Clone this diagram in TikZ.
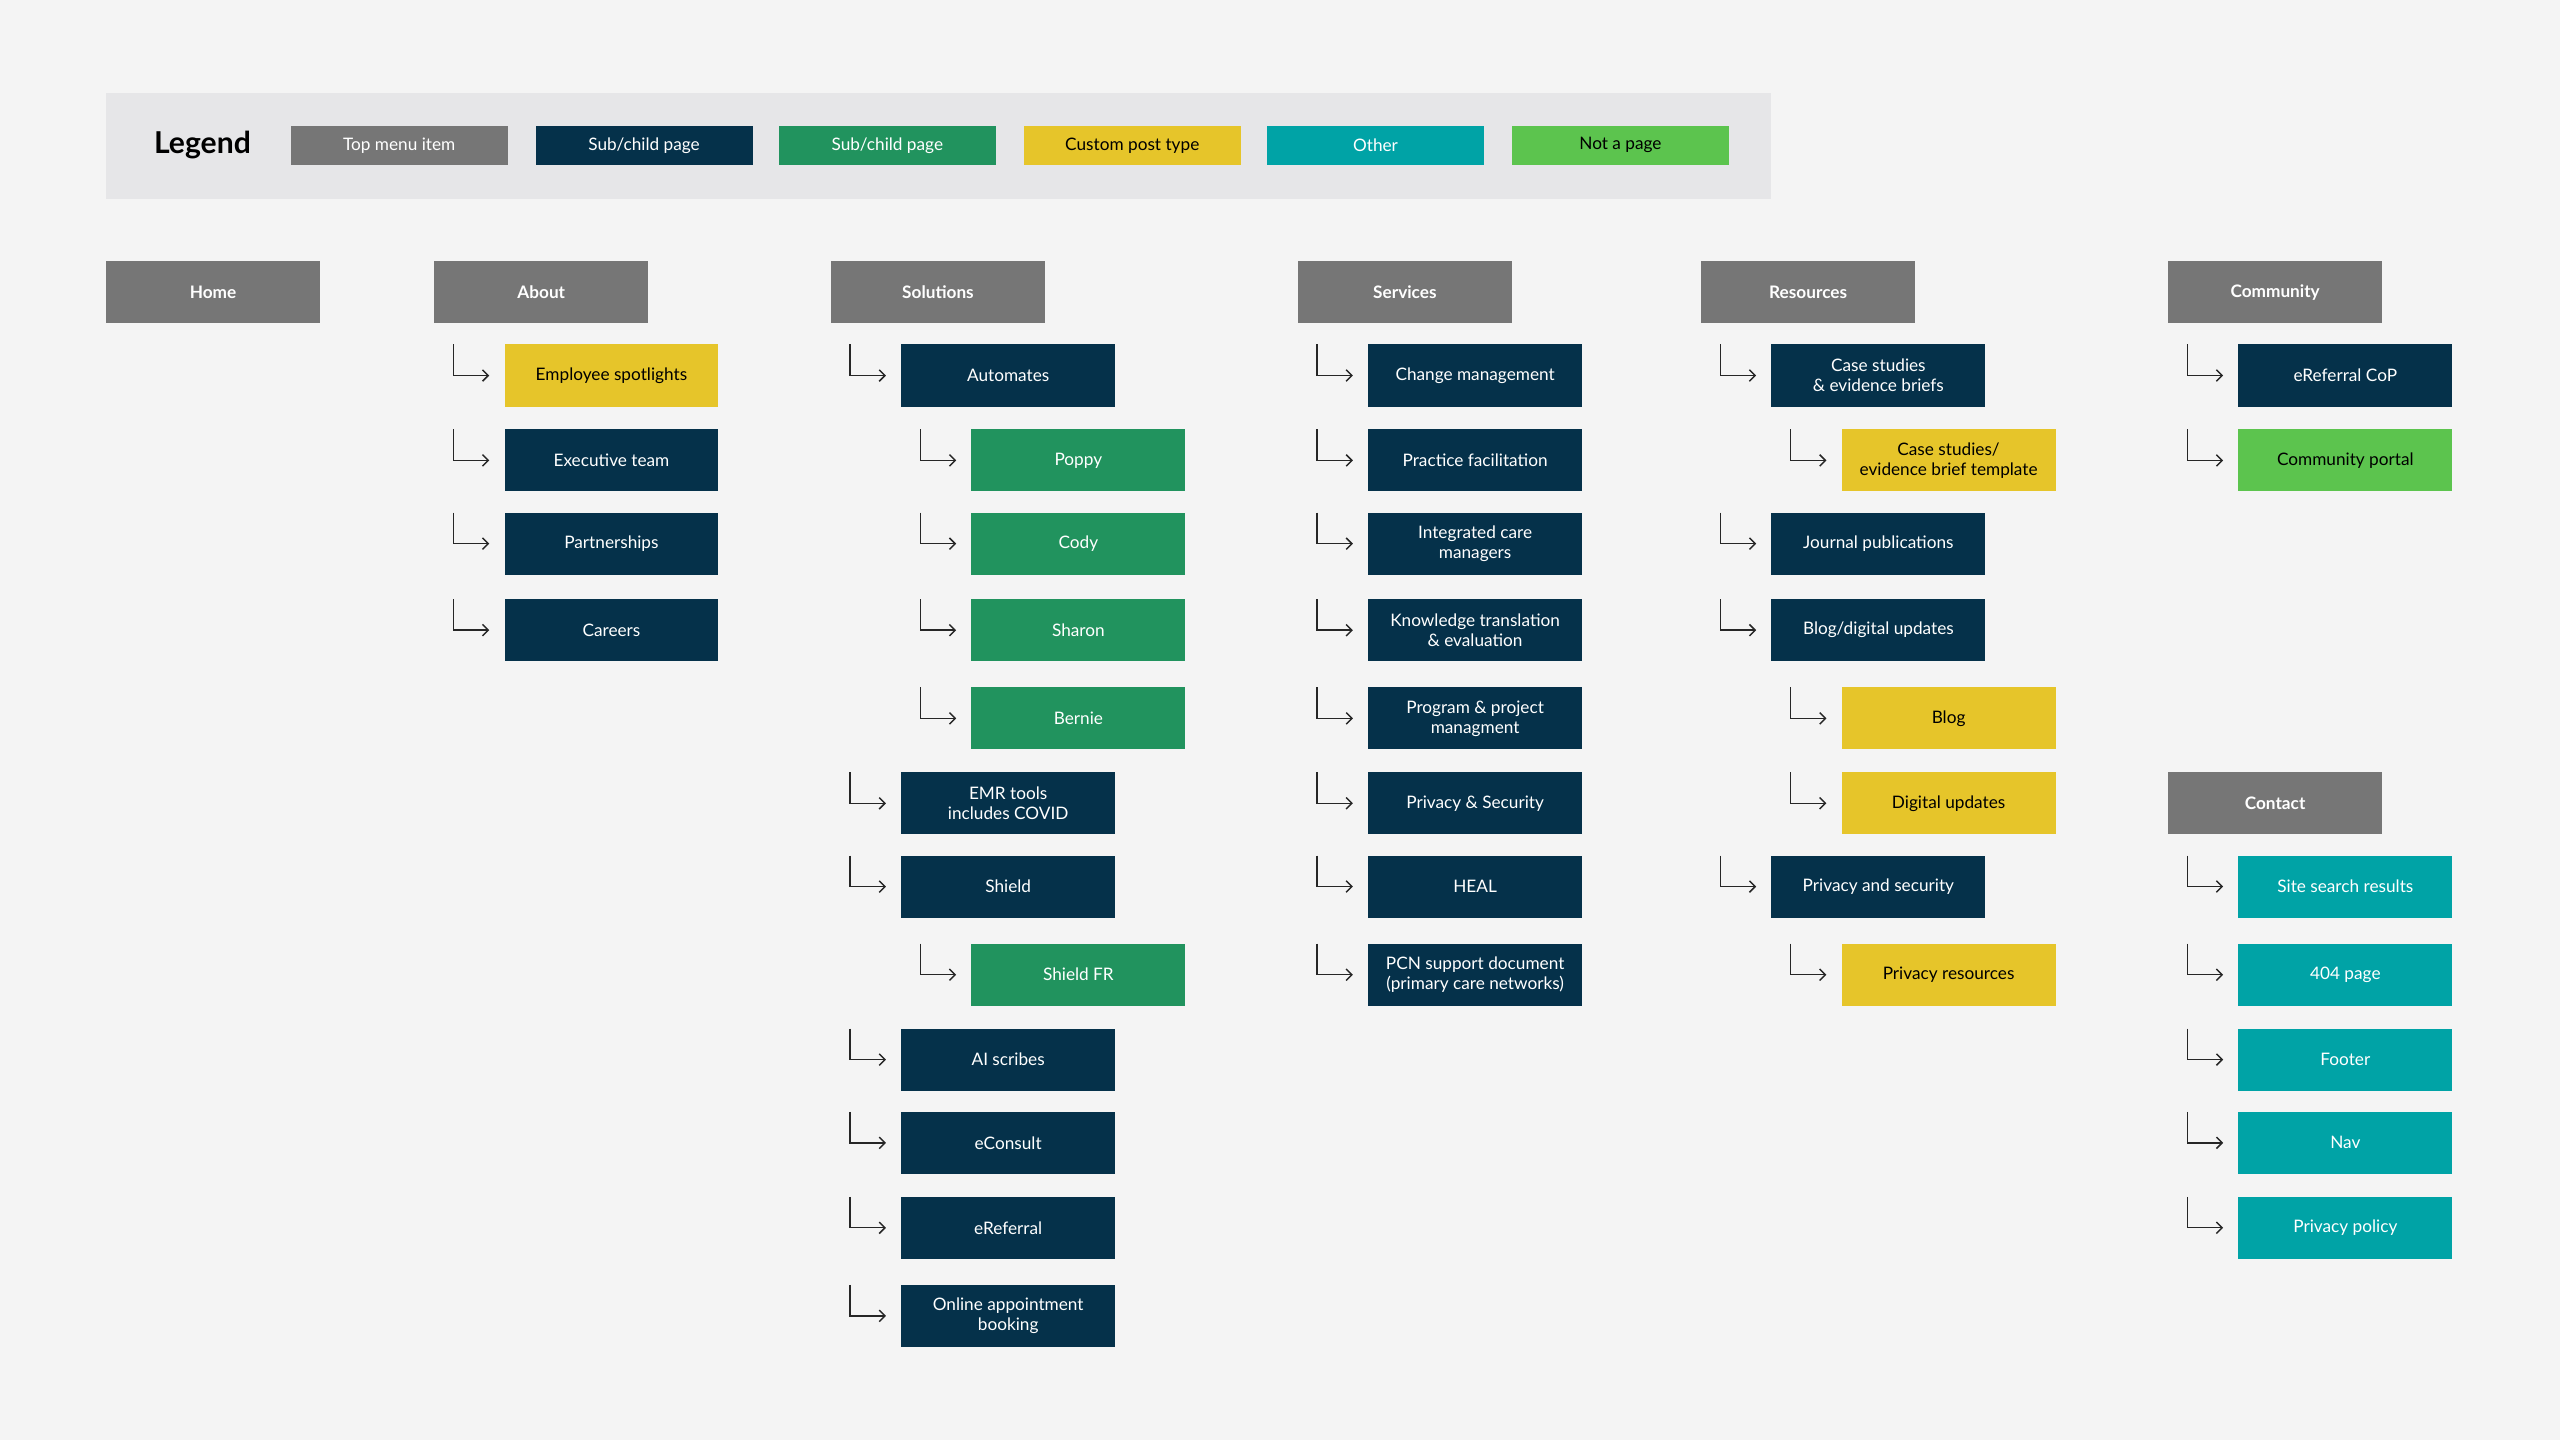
\documentclass[tikz,border=0pt]{standalone}
\usepackage{fontspec}
\setmainfont{Lato}
\usetikzlibrary{arrows.meta}
\definecolor{bgc}{HTML}{F4F4F4}
\definecolor{legc}{HTML}{E6E6E8}
\definecolor{topc}{HTML}{767676}
\definecolor{navyc}{HTML}{05314A}
\definecolor{greenc}{HTML}{21935E}
\definecolor{yellowc}{HTML}{E6C52A}
\definecolor{tealc}{HTML}{00A3A6}
\definecolor{limec}{HTML}{5CC44E}
\tikzset{
  box/.style={minimum width=2.62cm,minimum height=0.76cm,inner sep=0pt,align=center,
    font=\fontsize{6}{7}\selectfont},
  topitem/.style={box,fill=topc,text=white,font=\fontsize{6}{7}\selectfont\bfseries},
  navy/.style={box,fill=navyc,text=white},
  green/.style={box,fill=greenc,text=white},
  yellow/.style={box,fill=yellowc,text=black},
  teal/.style={box,fill=tealc,text=white},
  lime/.style={box,fill=limec,text=black},
  elbow/.style={-{Straight Barb[length=2pt]},line width=0.5pt,black!85}
}
% child box with its elbow
\newcommand{\kid}[5]{%
  \node[#4] (#1) at (#2,#3) {#5};
  \draw[elbow] ([xshift=-0.62cm,yshift=0.38cm]#1.west) |- ([xshift=-0.18cm]#1.west);
}
\begin{document}
\begin{tikzpicture}[x=0.02cm,y=-0.02cm]
  \fill[bgc] (0,0) rectangle (1568,882);
  \useasboundingbox (0,0) rectangle (1568,882);
  % legend
  \fill[legc] (65,57) rectangle (1085,122);
  \node[font=\fontsize{10.5}{12}\selectfont\bfseries] (L) at (124,89) {Legend};
  \node[topitem,minimum width=2.66cm,minimum height=0.48cm,font=\fontsize{6}{7}\selectfont] (L1) at (244.5,89) {Top menu item};
  \node[navy,minimum width=2.66cm,minimum height=0.48cm] (L2) at (394.5,89) {Sub/child page};
  \node[green,minimum width=2.66cm,minimum height=0.48cm] (L3) at (543.5,89) {Sub/child page};
  \node[yellow,minimum width=2.66cm,minimum height=0.48cm] (L4) at (693.5,89) {Custom post type};
  \node[teal,minimum width=2.66cm,minimum height=0.48cm] (L5) at (842.5,89) {Other};
  \node[lime,minimum width=2.66cm,minimum height=0.48cm] (L6) at (992.5,89) {Not a page};
  % top menu
  \node[topitem] (home) at (130.5,179) {Home};
  \node[topitem] (about) at (331.5,179) {About};
  \node[topitem] (sol) at (574.5,179) {Solutions};
  \node[topitem] (serv) at (860.5,179) {Services};
  \node[topitem] (res) at (1107.5,179) {Resources};
  \node[topitem] (comm) at (1393.5,179) {Community};
  \node[topitem] (cont) at (1393.5,492) {Contact};
  % about
  \kid{spot}{374.5}{230}{yellow}{Employee spotlights}
  \kid{exec}{374.5}{282}{navy}{Executive team}
  \kid{part}{374.5}{333}{navy}{Partnerships}
  \kid{care}{374.5}{386}{navy}{Careers}
  % solutions
  \kid{auto}{617.5}{230}{navy}{Automates}
  \kid{poppy}{660.5}{282}{green}{Poppy}
  \kid{cody}{660.5}{333}{green}{Cody}
  \kid{sharon}{660.5}{386}{green}{Sharon}
  \kid{bernie}{660.5}{440}{green}{Bernie}
  \kid{emr}{617.5}{492}{navy}{EMR tools\\includes COVID}
  \kid{shield}{617.5}{543}{navy}{Shield}
  \kid{shfr}{660.5}{597}{green}{Shield FR}
  \kid{ai}{617.5}{649}{navy}{AI scribes}
  \kid{econ}{617.5}{700}{navy}{eConsult}
  \kid{eref}{617.5}{752}{navy}{eReferral}
  \kid{book}{617.5}{806}{navy}{Online appointment\\booking}
  % services
  \kid{change}{903.5}{230}{navy}{Change management}
  \kid{pract}{903.5}{282}{navy}{Practice facilitation}
  \kid{integ}{903.5}{333}{navy}{Integrated care\\managers}
  \kid{know}{903.5}{386}{navy}{Knowledge translation\\\& evaluation}
  \kid{prog}{903.5}{440}{navy}{Program \& project\\managment}
  \kid{priv}{903.5}{492}{navy}{Privacy \& Security}
  \kid{heal}{903.5}{543}{navy}{HEAL}
  \kid{pcn}{903.5}{597}{navy}{PCN support document\\(primary care networks)}
  % resources
  \kid{cases}{1150.5}{230}{navy}{Case studies\\\& evidence briefs}
  \kid{tmpl}{1193.5}{282}{yellow}{Case studies/\\evidence brief template}
  \kid{journ}{1150.5}{333}{navy}{Journal publications}
  \kid{blogd}{1150.5}{386}{navy}{Blog/digital updates}
  \kid{blog}{1193.5}{440}{yellow}{Blog}
  \kid{digi}{1193.5}{492}{yellow}{Digital updates}
  \kid{privsec}{1150.5}{543}{navy}{Privacy and security}
  \kid{privres}{1193.5}{597}{yellow}{Privacy resources}
  % community
  \kid{cop}{1436.5}{230}{navy}{eReferral CoP}
  \kid{portal}{1436.5}{282}{lime}{Community portal}
  % contact
  \kid{search}{1436.5}{543}{teal}{Site search results}
  \kid{nf}{1436.5}{597}{teal}{404 page}
  \kid{foot}{1436.5}{649}{teal}{Footer}
  \kid{nav}{1436.5}{700}{teal}{Nav}
  \kid{pol}{1436.5}{752}{teal}{Privacy policy}
\end{tikzpicture}
\end{document}
